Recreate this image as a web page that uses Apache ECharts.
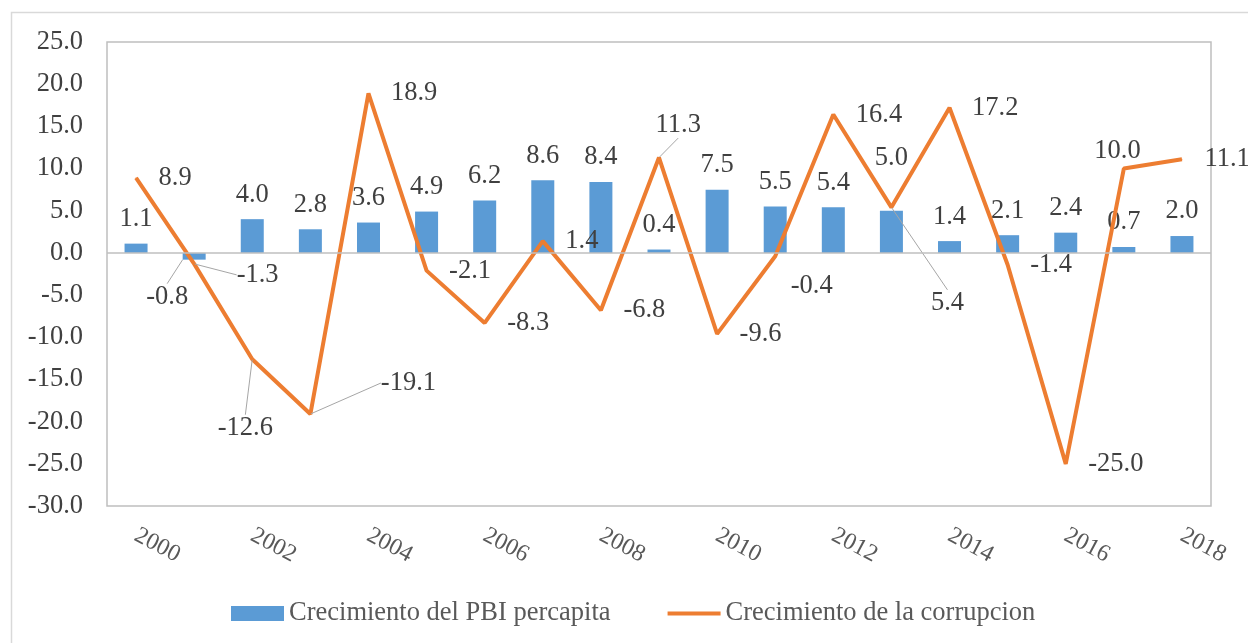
<!DOCTYPE html>
<html>
<head>
<meta charset="utf-8">
<script src="https://cdn.jsdelivr.net/npm/echarts@6/dist/echarts.min.js"></script>
<style>
    html, body { margin: 0; padding: 0; background: #fff; }
    #chart { width: 1248px; height: 643px; }
</style>
</head>
<body>
<div id="chart"></div>
<script>
// data
const years = ['2000', '2001', '2002', '2003', '2004', '2005', '2006', '2007', '2008', '2009',
    '2010', '2011', '2012', '2013', '2014', '2015', '2016', '2017', '2018'];
const pbiPercapita = [1.1, -0.8, 4.0, 2.8, 3.6, 4.9, 6.2, 8.6, 8.4, 0.4,
    7.5, 5.5, 5.4, 5.0, 1.4, 2.1, 2.4, 0.7, 2.0];
const corrupcion = [8.9, -1.3, -12.6, -19.1, 18.9, -2.1, -8.3, 1.4, -6.8, 11.3,
    -9.6, -0.4, 16.4, 5.4, 17.2, -1.4, -25.0, 10.0, 11.1];
const yMin = -30;
const yMax = 25;
const yStep = 5;
const seriesNames = ['Crecimiento del PBI percapita', 'Crecimiento de la corrupcion'];

// hand-placed labels (shift in px from default spot), as in the original
const lineLabelShift = { 1: [20, 11], 2: [-57, 69], 3: [48, -31], 9: [-26, -33], 11: [-7, 30], 13: [17, 96], 17: [-52, -17] };
const lineLeaders = [1, 2, 3, 9, 13];
const barLabelShift = { 1: [-27, 13], 13: [0, -28] };
const barLeaders = [1];

const font = 'Liberation Serif, Times New Roman, serif';
const fontSize = 26.5;
const leaderStyle = { color: '#a6a6a6', width: 1 };

const chart = echarts.init(document.getElementById('chart'));

const option = {
    animation: false,
    backgroundColor: '#fff',
    graphic: [{
        type: 'rect',
        z: -10,
        silent: true,
        shape: { x: 11.5, y: 12.5, width: 1300, height: 700 },
        style: { fill: 'none', stroke: '#d9d9d9', lineWidth: 1.5 }
    }],
    grid: {
        left: 107,
        right: 37,
        top: 42,
        bottom: 137,
        show: true,
        borderColor: '#bfbfbf',
        borderWidth: 1.5,
        backgroundColor: 'transparent',
        containLabel: false,
        outerBoundsMode: 'none'
    },
    legend: {
        left: 231,
        top: 600,
        padding: 0,
        itemWidth: 53,
        itemHeight: 15,
        itemGap: 57,
        data: [
            { name: seriesNames[0], icon: 'rect' },
            { name: seriesNames[1], icon: 'path://M0,0H55V4H0Z' }
        ],
        textStyle: { fontFamily: font, fontSize: fontSize, color: '#595959' }
    },
    xAxis: {
        type: 'category',
        data: years,
        axisLine: { show: false, onZero: false },
        axisTick: { show: false },
        axisLabel: {
            interval: 1,
            rotate: -28,
            margin: 28,
            fontFamily: font,
            fontSize: 24,
            color: '#595959'
        }
    },
    yAxis: {
        type: 'value',
        min: yMin,
        max: yMax,
        interval: yStep,
        axisLine: { show: false },
        axisTick: { show: false },
        splitLine: { show: false },
        axisLabel: {
            margin: 24,
            fontFamily: font,
            fontSize: fontSize,
            color: '#404040',
            formatter: v => v.toFixed(1)
        }
    },
    series: [
        {
            name: seriesNames[0],
            type: 'bar',
            barWidth: 23,
            itemStyle: { color: '#5b9bd5' },
            data: pbiPercapita.map((v, i) => ({
                value: v,
                label: v < 0 ? { position: 'bottom' } : undefined,
                labelLine: { show: barLeaders.includes(i), lineStyle: leaderStyle }
            })),
            label: {
                show: true,
                position: 'top',
                distance: 11,
                fontFamily: font,
                fontSize: fontSize,
                color: '#404040',
                formatter: p => p.value.toFixed(1)
            },
            labelLayout: p => {
                const s = barLabelShift[p.dataIndex];
                return s ? { dx: s[0], dy: s[1] } : {};
            },
            markLine: {
                silent: true,
                symbol: 'none',
                label: { show: false },
                lineStyle: { color: '#bfbfbf', width: 1.5, type: 'solid' },
                data: [{ yAxis: 0 }]
            }
        },
        {
            name: seriesNames[1],
            type: 'line',
            symbol: 'circle',
            symbolSize: 1,
            lineStyle: { color: '#ed7d31', width: 4 },
            itemStyle: { color: '#ed7d31' },
            data: corrupcion.map((v, i) => ({
                value: v,
                labelLine: { show: lineLeaders.includes(i), lineStyle: leaderStyle }
            })),
            label: {
                show: true,
                position: 'right',
                distance: 22,
                fontFamily: font,
                fontSize: fontSize,
                color: '#404040',
                formatter: p => p.value.toFixed(1)
            },
            labelLayout: p => {
                const s = lineLabelShift[p.dataIndex];
                return s ? { dx: s[0], dy: s[1] } : {};
            }
        }
    ]
};

chart.setOption(option);
</script>
</body>
</html>
